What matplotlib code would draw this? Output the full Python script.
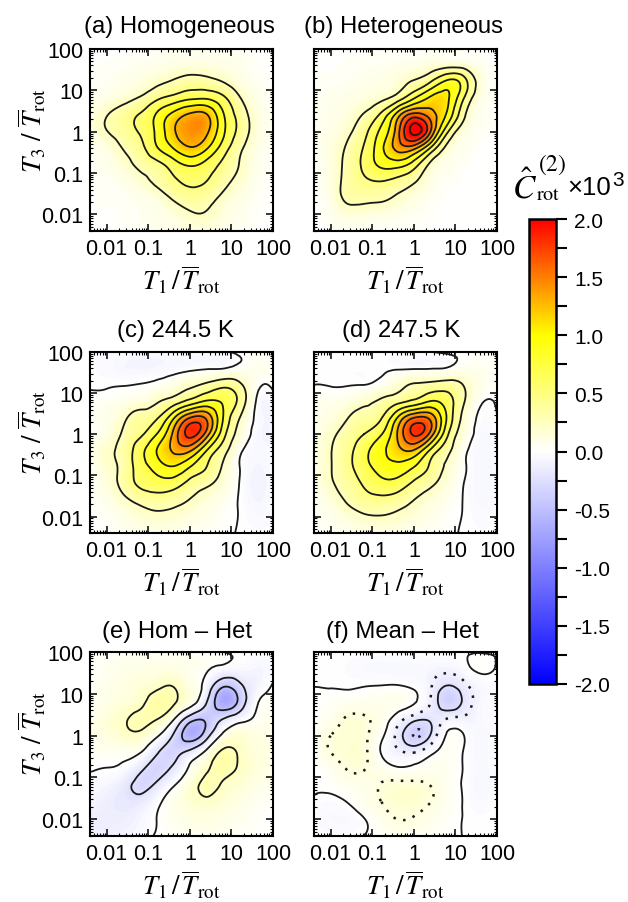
import matplotlib
matplotlib.use('Agg')
import matplotlib.pyplot as plt
import matplotlib.tri as mtri
import numpy as np
from matplotlib.cm import ScalarMappable
from matplotlib.colors import LinearSegmentedColormap, Normalize
from matplotlib.ticker import FixedLocator, LogLocator, NullFormatter

plt.rcParams['font.family'] = ['Liberation Sans', 'DejaVu Sans']
plt.rcParams['mathtext.fontset'] = 'stix'
plt.rcParams['axes.unicode_minus'] = False

# grid nodes, log10(T / Tbar)
log_t1 = [-2.4, -2.0, -1.6, -1.2, -0.8, -0.4, 0.0, 0.4, 0.8, 1.2, 1.6, 2.0]
log_t3 = [2.0, 1.6, 1.2, 0.8, 0.4, 0.0, -0.4, -0.8, -1.2, -1.6, -2.0, -2.4]

tick_vals = [0.01, 0.1, 1, 10, 100]
tick_labels = ['0.01', '0.1', '1', '10', '100']
titles = ['(a) Homogeneous', '(b) Heterogeneous', '(c) 244.5 K', '(d) 247.5 K',
          '(e) Hom \u2013 Het', '(f) Mean \u2013 Het']

# values, top row first
hom = [
    [.02, .02, .02, .03, .04, .05, .05, .05, .04, .03, .02, .01],
    [.02, .03, .04, .06, .08, .11, .13, .12, .10, .07, .03, .02],
    [.03, .05, .08, .12, .20, .28, .36, .34, .25, .12, .05, .02],
    [.06, .10, .17, .28, .46, .60, .72, .74, .56, .27, .09, .03],
    [.10, .24, .38, .52, .78, 1.08, 1.30, 1.28, .78, .40, .13, .05],
    [.10, .24, .37, .52, .80, 1.20, 1.42, 1.30, .80, .42, .14, .05],
    [.06, .11, .26, .42, .72, 1.00, 1.22, 1.03, .63, .30, .10, .04],
    [.04, .07, .16, .30, .42, .62, .78, .66, .44, .24, .08, .03],
    [.02, .04, .08, .17, .30, .46, .55, .50, .33, .18, .06, .02],
    [.02, .03, .04, .07, .13, .28, .38, .34, .20, .10, .04, .02],
    [.01, .02, .03, .05, .08, .13, .22, .23, .13, .07, .03, .01],
    [.01, .01, .02, .03, .04, .07, .10, .10, .07, .04, .02, .01],
]
het = [
    [.02, .02, .02, .02, .03, .03, .04, .05, .06, .06, .03, .01],
    [.02, .02, .03, .04, .05, .07, .09, .14, .18, .16, .07, .02],
    [.03, .04, .05, .07, .10, .15, .28, .50, .82, .62, .14, .04],
    [.04, .06, .09, .13, .20, .38, .75, 1.06, 1.05, .50, .10, .03],
    [.05, .08, .13, .27, .55, 1.12, 1.62, 1.38, .95, .30, .06, .02],
    [.05, .09, .20, .42, .80, 1.38, 2.08, 1.50, .55, .12, .04, .02],
    [.05, .12, .28, .52, .92, 1.32, 1.32, .72, .18, .06, .02, .01],
    [.04, .12, .32, .55, .80, .85, .62, .20, .07, .03, .01, .01],
    [.03, .12, .33, .46, .50, .42, .28, .10, .04, .02, .01, .01],
    [.02, .10, .30, .32, .30, .21, .12, .05, .02, .01, .01, .01],
    [.02, .06, .14, .13, .11, .08, .05, .03, .01, .01, .01, .01],
    [.01, .03, .05, .05, .04, .03, .02, .01, .01, .01, .00, .00],
]
t2445 = [
    [-.02, -.03, -.04, -.05, -.05, -.04, -.03, -.03, -.02, .02, .04, .03],
    [-.02, -.04, -.07, -.08, -.07, -.05, -.03, -.01, -.003, .04, .06, .05],
    [-.01, -.01, -.005, .005, .04, .10, .20, .30, .42, .30, .04, .02],
    [.03, .04, .07, .12, .22, .36, .58, .78, .72, .42, -.01, -.04],
    [.04, .08, .20, .36, .47, .95, 1.50, 1.45, .75, .25, -.03, -.08],
    [.04, .10, .28, .46, .75, 1.30, 1.82, 1.38, .60, .15, -.05, -.08],
    [.05, .20, .33, .65, 1.00, 1.28, 1.28, .75, .35, .03, -.06, -.06],
    [.04, .17, .32, .62, .85, .98, .75, .50, .22, .00, -.08, -.04],
    [.03, .13, .33, .55, .64, .62, .42, .30, .14, -.005, -.10, -.04],
    [.02, .08, .19, .32, .38, .34, .24, .14, .06, -.01, -.08, -.03],
    [.01, .04, .09, .16, .20, .18, .13, .08, .03, -.005, -.05, -.02],
    [.01, .02, .04, .06, .07, .06, .04, .02, .01, -.005, -.02, -.01],
]
t2475 = [
    [-.005, -.01, -.01, -.01, -.01, -.01, -.01, -.002, .02, .03, .03, .02],
    [-.01, -.015, -.02, -.02, -.015, -.01, -.01, -.005, .01, .06, .05, .03],
    [.00, -.005, -.005, .00, .05, .16, .27, .32, .36, .24, .08, .03],
    [.04, .06, .10, .18, .29, .42, .56, .76, .62, .27, .02, .015],
    [.05, .12, .24, .36, .47, 1.00, 1.50, 1.42, .72, .18, -.02, .00],
    [.07, .20, .35, .50, .72, 1.25, 1.78, 1.40, .55, .12, -.05, -.02],
    [.07, .24, .42, .66, .93, 1.15, 1.22, .70, .32, .04, -.06, -.03],
    [.07, .24, .42, .65, .85, .92, .75, .46, .20, .02, -.07, -.03],
    [.05, .22, .36, .53, .67, .65, .45, .30, .12, .00, -.07, -.03],
    [.04, .13, .28, .40, .43, .38, .25, .15, .06, -.005, -.06, -.02],
    [.03, .07, .14, .22, .24, .20, .14, .08, .03, -.005, -.04, -.01],
    [.01, .03, .06, .08, .09, .08, .05, .03, .01, -.005, -.02, -.01],
]
hom_het = [
    [.02, .03, .04, .05, .05, .05, .03, .01, .00, -.02, -.03, -.02],
    [.03, .05, .08, .09, .10, .10, .07, .02, -.05, -.06, -.08, -.04],
    [.04, .07, .11, .15, .20, .24, .10, -.08, -.45, -.30, -.10, .01],
    [.05, .09, .14, .20, .34, .28, .10, -.24, -.68, -.42, -.03, .03],
    [.07, .14, .22, .30, .26, .03, -.38, -.45, -.25, -.08, .03, .06],
    [.06, .12, .18, .20, .03, -.27, -.62, -.35, .05, .16, .12, .08],
    [.02, .05, .05, .01, -.22, -.33, -.18, .05, .29, .22, .14, .08],
    [.005, -.005, -.04, -.20, -.33, -.20, .03, .22, .32, .22, .14, .07],
    [-.04, -.08, -.17, -.30, -.20, -.01, .15, .30, .22, .15, .09, .05],
    [-.08, -.13, -.18, -.17, -.04, .07, .16, .20, .15, .10, .05, .03],
    [-.12, -.14, -.13, -.08, .00, .06, .10, .11, .09, .06, .03, .01],
    [-.12, -.11, -.09, -.05, .01, .03, .05, .06, .05, .03, .02, .01],
]
mean_het = [
    [.00, -.005, -.01, -.01, -.01, -.01, -.01, -.01, -.01, -.01, -.005, -.005],
    [-.005, -.01, -.03, -.05, -.06, -.06, -.06, -.07, -.09, -.04, .02, -.01],
    [-.002, -.005, -.01, -.005, .00, .003, -.02, -.11, -.25, -.16, -.06, -.03],
    [.02, .03, .05, .06, .07, .06, .01, -.13, -.35, -.22, -.07, -.03],
    [.02, .06, .14, .14, .08, -.06, -.20, -.22, -.12, -.10, -.06, -.02],
    [.03, .125, .17, .15, .03, -.16, -.38, -.24, .015, .002, -.06, -.02],
    [.03, .125, .17, .15, .00, -.10, -.13, -.03, .04, -.005, -.06, -.02],
    [.02, .05, .13, .13, .07, .02, .03, .06, .05, -.005, -.06, -.02],
    [.01, .02, .05, .08, .13, .16, .16, .125, .05, -.01, -.07, -.02],
    [-.01, -.03, .00, .06, .12, .17, .17, .125, .05, -.005, -.05, -.01],
    [-.02, -.05, -.05, -.005, .07, .125, .115, .07, .03, -.003, -.02, -.005],
    [-.01, -.02, -.02, .002, .03, .05, .05, .04, .02, -.002, -.01, .00],
]
fields = [hom, het, t2445, t2475, hom_het, mean_het]

W = 628.0
H = 903.0
fig = plt.figure(figsize=(6.28, 9.03), dpi=100)


def px_axes(x0, y0, x1, y1):
    return fig.add_axes([x0 / W, 1 - y1 / H, (x1 - x0) / W, (y1 - y0) / H])


cmap = LinearSegmentedColormap.from_list('bwyr', [
    (0.0, '#0000ff'), (0.5, '#ffffff'), (0.75, '#ffff00'), (1.0, '#ff0000')])
norm = Normalize(-2, 2)
fill_levels = np.linspace(-2, 2, 161)
solid_levels = [[.25, .5, .75, 1, 1.25, 1.5, 1.75, 2],
                [.25, .5, .75, 1, 1.25, 1.5, 1.75, 2],
                [0, .25, .5, .75, 1, 1.25, 1.5, 1.75],
                [0, .25, .5, .75, 1, 1.25, 1.5, 1.75],
                [-.5, -.25, 0, .25],
                [-.25, 0]]

# panel boxes in pixels
boxes = [(90, 50, 273, 232), (314, 50, 497, 232),
         (90, 353, 273, 534), (314, 353, 497, 534),
         (90, 653, 273, 837), (314, 653, 497, 837)]
title_pos = [(179, 27), (403, 27), (175, 331), (401, 331), (177, 632), (402, 632)]

xx, yy = np.meshgrid(log_t1, log_t3)
base = mtri.Triangulation(xx.ravel(), yy.ravel())
refiner = mtri.UniformTriRefiner(base)

for i in range(6):
    ax = px_axes(*boxes[i])
    z = np.array(fields[i], dtype=float).ravel()
    fine, zf = refiner.refine_field(z, subdiv=3)
    tri = mtri.Triangulation(10 ** fine.x, 10 ** fine.y, fine.triangles)

    ax.tricontourf(tri, zf, levels=fill_levels, cmap=cmap, norm=norm, extend='both')
    ax.tricontour(tri, zf, levels=solid_levels[i], colors='#1a1a1a', linewidths=1.3,
                  linestyles='solid')
    if i == 5:
        ax.tricontour(tri, zf, levels=[-.375, -.125, .125], colors='#1a1a1a', linewidths=1.8,
                      linestyles=[(0, (1, 3))])

    ax.set_xscale('log')
    ax.set_yscale('log')
    ax.set_xlim(10 ** -2.4, 100)
    ax.set_ylim(10 ** -2.4, 100)
    ax.set_xticks(tick_vals)
    ax.set_xticklabels(tick_labels)
    ax.set_yticks(tick_vals)
    ax.set_yticklabels(tick_labels)
    for a in (ax.xaxis, ax.yaxis):
        a.set_minor_locator(LogLocator(base=10, subs=np.arange(2, 10), numticks=12))
        a.set_minor_formatter(NullFormatter())
    ax.tick_params(which='major', direction='in', top=True, right=True, length=5, width=1.1,
                   labelsize=15.5, pad=5)
    ax.tick_params(which='minor', direction='in', top=True, right=True, length=2.5, width=0.8)
    for s in ax.spines.values():
        s.set_linewidth(1.5)

    ax.set_xlabel(r'$T_1\,/\,\overline{T}_{\mathrm{rot}}$', fontsize=19.5, labelpad=3)
    if i % 2 == 0:
        ax.set_ylabel(r'$T_3\ /\ \overline{T}_{\mathrm{rot}}$', fontsize=19.5)
        ax.yaxis.set_label_coords(-0.23, 0.56)
    else:
        ax.tick_params(axis='y', labelleft=False)

    fig.text(title_pos[i][0] / W, 1 - title_pos[i][1] / H, titles[i], fontsize=17.2,
             ha='center', va='center')

# colour bar
cax = px_axes(529, 220, 556, 685)
cb = fig.colorbar(ScalarMappable(norm=norm, cmap=cmap), cax=cax)
cb.set_ticks([-2, -1.5, -1, -.5, 0, .5, 1, 1.5, 2])
cb.set_ticklabels(['-2.0', '-1.5', '-1.0', '-0.5', '0.0', '0.5', '1.0', '1.5', '2.0'])
cb.ax.yaxis.set_minor_locator(FixedLocator(np.arange(-1.75, 2, .5)))
cb.ax.tick_params(which='major', direction='out', length=8, width=1.5, labelsize=15, pad=5)
cb.ax.tick_params(which='minor', direction='out', length=8, width=1.5)
cb.outline.set_linewidth(1.8)

# colour bar heading, built from separate pieces
fig.text(525 / W, 1 - 188 / H, r'$\hat{C}$', fontsize=24, ha='center', va='center')
fig.text(548 / W, 1 - 194 / H, r'$\mathrm{rot}$', fontsize=14.5, ha='center', va='center')
fig.text(552 / W, 1 - 165 / H, r'$(2)$', fontsize=17, ha='center', va='center')
fig.text(567 / W, 1 - 188 / H, '\u00d710', fontsize=18.5, ha='left', va='center')
fig.text(612 / W, 1 - 180 / H, '3', fontsize=15, ha='left', va='center')

fig.savefig('out.png', dpi=100)
